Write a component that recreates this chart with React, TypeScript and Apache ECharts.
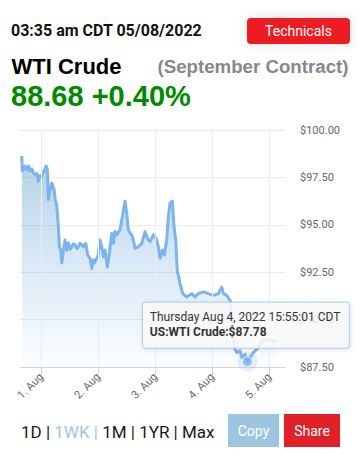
import React, { useEffect, useRef } from 'react';
import * as echarts from 'echarts';

// hours relative to Mon Aug 1 2022 00:00 CDT
const hours = [
  -8.25, -8.0, -7.4, -6.86, -6.2, -5.47, -4.76, -4.0, -3.37, -2.65, -1.9, -1.26, -0.6, -0.13,
  0.84, 1.4, 1.98, 2.53, 2.95, 3.3, 3.66, 4.38, 4.9, 5.35, 5.77, 6.48, 7.16, 7.58, 8.17, 8.59,
  9.26, 9.98, 10.3, 10.69, 11.37, 12.1, 12.8, 13.5, 14.19, 15.0, 15.58, 16.29, 17.0, 17.68,
  18.69, 19.54, 20.5, 21.22, 21.89, 22.4, 22.9, 23.75, 24.72, 25.43, 26.1, 26.82, 27.79, 28.63,
  29.64, 30.32, 31.03, 31.75, 32.4, 33.14, 34.11, 35.24, 35.96, 36.63, 37.35, 38.06, 38.74,
  39.45, 40.84, 42.27, 43.66, 44.63, 45.77, 47.16, 48.29, 49.26, 49.98, 50.95, 51.79, 52.8,
  53.47, 54.19, 55.16, 55.87, 56.59, 57.26, 57.68, 58.4, 59.54, 61.22, 63.33, 64.72, 66.11,
  68.21, 70.32, 72.42, 74.53, 75.96, 76.63, 78.06, 79.45, 80.17, 80.84, 81.56, 82.27, 83.66,
  84.38, 85.77, 86.74, 87.87, 89.26, 90.69, 91.37, 92.8, 94.91, 97.68, 99.11,
];
const prices = [
  98.63, 97.83, 98.0, 98.1, 97.9, 98.1, 97.83, 97.95, 97.75, 97.66, 97.7, 97.3, 97.6, 97.5,
  97.77, 97.9, 98.1, 97.93, 96.33, 96.6, 96.86, 97.2, 97.0, 96.86, 96.4, 95.97, 94.9, 93.84, 93.66, 92.98,
  93.66, 94.2, 93.9, 93.66, 94.04, 93.7, 93.84, 94.0, 93.93, 93.75, 93.84, 94.02, 93.95, 93.84,
  94.02, 93.4, 93.23, 92.7, 93.14, 93.0, 93.14, 93.31, 94.2, 93.84, 93.31, 93.67, 92.78, 93.49,
  94.56, 94.02, 94.64, 94.47, 94.6, 94.73, 95.44, 96.24, 95.62, 94.73, 94.56, 94.47, 94.2,
  93.76, 93.84, 94.02, 94.64, 94.29, 94.11, 94.47, 94.29, 93.84, 93.23, 93.67, 93.4, 94.2,
  95.44, 96.15, 96.24, 94.91, 94.2, 92.52, 92.34, 91.9, 91.37, 91.19, 91.37, 91.19, 91.37,
  91.46, 91.37, 91.28, 91.37, 91.72, 91.37, 91.28, 91.01, 90.12, 89.06, 88.44, 88.26, 88.35,
  88.0, 88.17, 87.78, 88.0, 88.26, 88.44, 88.5, 88.88, 88.97, 88.88, 88.8,
];

const xTickHours = [0, 24, 48, 72, 96];
const xTickLabels = ['1. Aug', '2. Aug', '3. Aug', '4. Aug', '5. Aug'];
const yMin = 87.5;
const yMax = 100;
const yStep = 2.5;
const xMin = -9.0;
const xMax = 102.6;

const hoverHour = 86.74;
const tooltipDate = 'Thursday Aug 4, 2022 15:55:01 CDT';
const seriesName = 'US:WTI Crude';

const headerTime = '03:35 am CDT 05/08/2022';
const instrument = 'WTI Crude';
const contract = '(September Contract)';
const lastPrice = '88.68';
const change = '+0.40%';

const FONT = 'Roboto, "Noto Sans", sans-serif';
const ARIAL = '"Liberation Sans", Arial, sans-serif';

export default function App() {
  const ref = useRef<HTMLDivElement>(null);

  useEffect(() => {
    if (!ref.current) return;
    const chart = echarts.init(ref.current, undefined, { renderer: 'svg' });
    const data = hours.map((h, i) => [h, prices[i]]);
    const hoverIndex = hours.indexOf(hoverHour);
    const hoverPoint = data[hoverIndex];

    chart.setOption({
      animation: false,
      textStyle: { fontFamily: FONT },
      grid: { left: 20, right: 75, top: 130, bottom: 99 },
      xAxis: {
        type: 'value',
        min: xMin,
        max: xMax,
        axisLine: { show: true, onZero: false, lineStyle: { color: '#ccd6eb', width: 1 } },
        axisTick: { show: true, customValues: xTickHours, length: 8, lineStyle: { color: '#ccd6eb' } },
        axisLabel: {
          customValues: xTickHours,
          formatter: (v: number) => xTickLabels[xTickHours.indexOf(v)] ?? '',
          rotate: 45,
          color: '#666666',
          fontSize: 11,
          fontFamily: FONT,
          margin: 8,
        },
        splitLine: { show: false },
      },
      yAxis: {
        type: 'value',
        position: 'right',
        min: yMin,
        max: yMax,
        interval: yStep,
        axisLine: { show: false },
        axisTick: { show: false },
        axisLabel: {
          formatter: (v: number) => '$' + v.toFixed(2),
          color: '#666666',
          fontSize: 11,
          fontFamily: FONT,
          margin: 15,
        },
        splitLine: { show: true, lineStyle: { color: '#ebebeb', width: 1 } },
      },
      series: [
        {
          type: 'line',
          data,
          showSymbol: false,
          symbol: 'none',
          silent: true,
          lineStyle: { color: '#7cb5ec', width: 3, join: 'round' },
          areaStyle: {
            origin: 'start',
            color: new echarts.graphic.LinearGradient(0, 0, 0, 1, [
              { offset: 0, color: 'rgba(120,170,210,0.78)' },
              { offset: 1, color: 'rgba(124,181,236,0.03)' },
            ]),
          },
          markLine: {
            silent: true,
            symbol: ['none', 'none'],
            label: { show: false },
            lineStyle: { color: '#ececec', width: 1, type: 'solid' },
            emphasis: { disabled: true },
            data: xTickHours.map((h) => ({ xAxis: h })),
          },
          z: 2,
        },
        {
          type: 'scatter',
          data: [hoverPoint],
          symbolSize: 20,
          silent: true,
          itemStyle: { color: 'rgba(124,181,236,0.25)' },
          z: 3,
        },
        {
          type: 'scatter',
          data: [hoverPoint],
          symbolSize: 10,
          silent: true,
          itemStyle: { color: '#7cb5ec', borderColor: '#ffffff', borderWidth: 1 },
          z: 4,
        },
      ],
    });

    const [px, py] = chart.convertToPixel({ seriesIndex: 0 }, hoverPoint) as number[];
    const boxLeft = px - 105;
    const boxTop = py - 59.5;

    chart.setOption({
      graphic: [
        {
          type: 'text',
          x: 11,
          y: 30,
          style: { text: headerTime, fill: '#111', fontSize: 16, fontWeight: 'bold', fontFamily: FONT, verticalAlign: 'middle' },
        },
        {
          type: 'rect',
          shape: { x: 247, y: 18, width: 103, height: 26, r: 4 },
          style: { fill: '#ed1c24', shadowBlur: 12, shadowColor: 'rgba(0,0,0,0.12)' },
        },
        {
          type: 'text',
          x: 298.5,
          y: 31,
          style: { text: 'Technicals', fill: '#fff', fontSize: 14, fontFamily: FONT, align: 'center', verticalAlign: 'middle' },
        },
        {
          type: 'text',
          x: 11.5,
          y: 66,
          style: { text: instrument, fill: '#000', fontSize: 22, fontWeight: 'bold', fontFamily: ARIAL, verticalAlign: 'middle' },
        },
        {
          type: 'text',
          x: 348.5,
          y: 66,
          style: { text: contract, fill: '#888888', fontSize: 18.7, fontWeight: 'bold', fontFamily: ARIAL, align: 'right', verticalAlign: 'middle' },
        },
        {
          type: 'text',
          x: 11,
          y: 96,
          style: { text: lastPrice + ' ' + change, fill: '#008a00', fontSize: 29, fontWeight: 'bold', fontFamily: ARIAL, verticalAlign: 'middle' },
        },
        // tooltip
        {
          type: 'rect',
          z: 100,
          shape: { x: boxLeft, y: boxTop, width: 207, height: 46, r: 3 },
          style: { fill: 'rgba(250,250,250,0.85)', stroke: '#a7cbec', lineWidth: 1, shadowBlur: 4, shadowColor: 'rgba(0,0,0,0.12)', shadowOffsetX: 1, shadowOffsetY: 1 },
        },
        {
          type: 'text',
          z: 101,
          x: boxLeft + 7.5,
          y: boxTop + 15,
          style: { text: tooltipDate, fill: '#333333', fontSize: 12, fontFamily: FONT, verticalAlign: 'middle' },
        },
        {
          type: 'text',
          z: 101,
          x: boxLeft + 7.5,
          y: boxTop + 30,
          style: { text: seriesName + ':$' + prices[hoverIndex].toFixed(2), fill: '#333333', fontSize: 12, fontWeight: 'bold', fontFamily: FONT, verticalAlign: 'middle' },
        },
        // footer
        {
          type: 'text',
          x: 21,
          y: 432,
          style: {
            text: '{a|1D | }{b|1WK | }{a|1M | 1YR | Max}',
            fontSize: 17,
            fontFamily: FONT,
            verticalAlign: 'middle',
            rich: {
              a: { fill: '#1a1a1a', fontSize: 17, fontFamily: FONT },
              b: { fill: '#a3c3d7', fontSize: 17, fontFamily: FONT },
            },
          },
        },
        {
          type: 'rect',
          shape: { x: 228, y: 414, width: 51, height: 33 },
          style: { fill: '#9dc5df' },
        },
        {
          type: 'text',
          x: 253.5,
          y: 431,
          style: { text: 'Copy', fill: '#fff', fontSize: 14, fontFamily: FONT, align: 'center', verticalAlign: 'middle' },
        },
        {
          type: 'rect',
          shape: { x: 284, y: 414, width: 56, height: 33 },
          style: { fill: '#e02127' },
        },
        {
          type: 'text',
          x: 312,
          y: 431,
          style: { text: 'Share', fill: '#fff', fontSize: 14, fontFamily: FONT, align: 'center', verticalAlign: 'middle' },
        },
      ],
    });

    return () => chart.dispose();
  }, []);

  return (
    <div
      ref={ref}
      style={{ position: 'absolute', left: 0, top: 0, width: 360, height: 466, background: '#ffffff' }}
    />
  );
}
